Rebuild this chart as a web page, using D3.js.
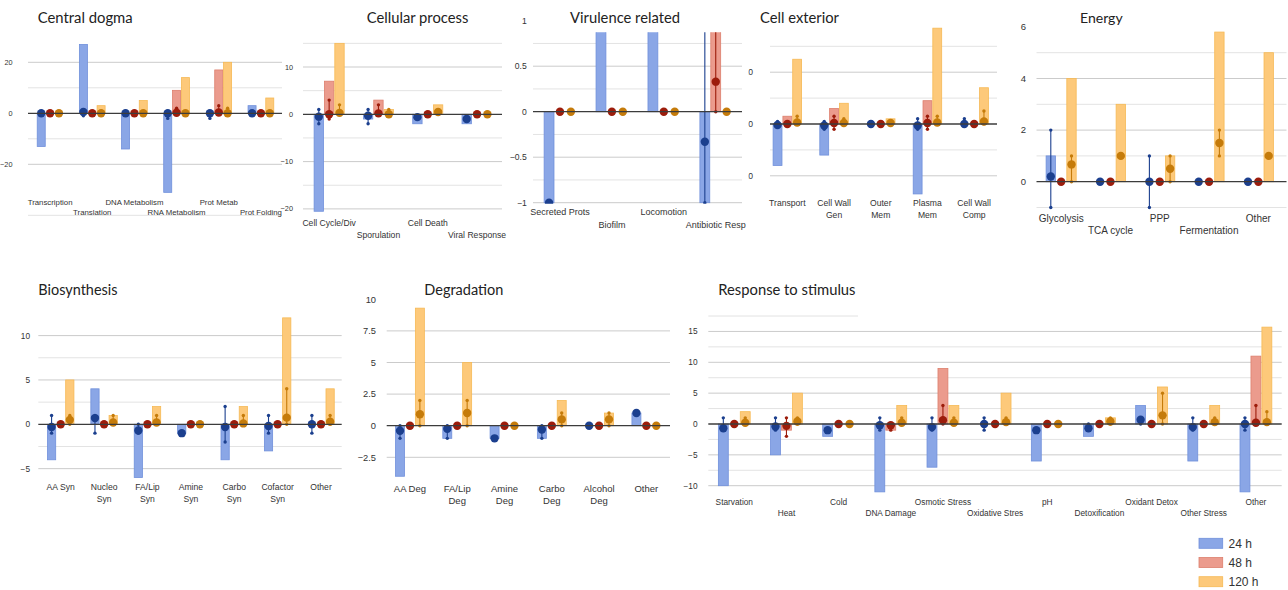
<!DOCTYPE html>
<html><head><meta charset="utf-8">
<script src="https://cdn.jsdelivr.net/npm/d3@7"></script>
<style>
html,body{margin:0;padding:0;background:#fff;}
svg{display:block;}
.lbl{font-family:"Liberation Sans",Arial,sans-serif;fill:#333;}
.title{font-family:Lato,"Open Sans",sans-serif;fill:#222;}
</style></head><body>
<svg id="chart" width="1288" height="590"></svg>
<script>
// ---- series ----
const seriesNames = ["24 h", "48 h", "120 h"];
const barFill   = ["#8aa6e6", "#eb9b8d", "#fdc97a"];
const barStroke = ["#7090db", "#dd7f6d", "#f6b955"];
const dotFill   = ["#1b3f8e", "#9c1c0b", "#c57b0a"];

// ---- Central dogma ----
const dogmaCats = ["Transcription", "Translation", "DNA Metabolism", "RNA Metabolism", "Prot Metab", "Prot Folding"];
const dogma24 = [-13, 27, -14, -31, 0, 3];
const dogma48 = [0, 0, 0, 9, 17, 0];
const dogma120 = [0, 3, 5, 14, 20, 6];
const dogmaDot24 = [0, 0.5, 0, 0, 0, 0];
const dogmaDot48 = [0, 0, 0, 0.2, 0.3, 0];
const dogmaDot120 = [0, 0, 0, 0, 0, 0];
const dogmaErr24 = [[-0.8, 0.5], [-1, 1], [-0.6, 0.3], [-2, 0], [-2, 0.5], [-0.5, 0.5]];
const dogmaErr48 = [[0, 0], [0, 0], [0, 0], [0, 2], [0, 3], [0, 0]];
const dogmaErr120 = [[0, 0], [0, 0], [0, 0], [0, 0], [0, 2], [0, 0]];

// ---- Cellular process ----
const cellCats = ["Cell Cycle/Div", "Sporulation", "Cell Death", "Viral Response"];
const cell24 = [-20.5, -1, -2, -2];
const cell48 = [7, 3, 0, 0];
const cell120 = [15, 1, 2, 0];
const cellDot24 = [-0.5, -0.3, -0.6, -1];
const cellDot48 = [0, 0.2, 0, 0];
const cellDot120 = [0.3, 0, 0.5, 0];
const cellErr24 = [[-2, 1], [-2, 1], [0, 0], [0, 0]];
const cellErr48 = [[-1, 3], [0, 2], [0, 0], [0, 0]];
const cellErr120 = [[0, 2], [0, 1], [0, 0], [0, 0]];

// ---- Virulence related ----
const virCats = ["Secreted Prots", "Biofilm", "Locomotion", "Antibiotic Resp"];
const vir24 = [-1, 1, 1, -1];
const vir48 = [0, 0, 0, 1];
const vir120 = [0, 0, 0, 0];
const virDot24 = [-1, 1, 1, -0.33];
const virDot48 = [0, 0, 0, 0.33];
const virDot120 = [0, 0, 0, 0];
const virErr24 = [[0, 0], [0, 0], [0, 0], [-1, 1]];
const virErr48 = [[0, 0], [0, 0], [0, 0], [0, 1]];
const virErr120 = [[0, 0], [0, 0], [0, 0], [0, 0]];

// ---- Cell exterior ----
const extCats = ["Transport", "Cell Wall\nGen", "Outer\nMem", "Plasma\nMem", "Cell Wall\nComp"];
const ext24 = [-8, -6, 0, -13.5, 0];
const ext48 = [1.5, 3, 0, 4.5, 0];
const ext120 = [12.5, 4, 1, 18.5, 7];
const extDot24 = [-0.2, -0.3, 0, -0.3, 0];
const extDot48 = [0, 0.2, 0, 0.2, 0];
const extDot120 = [0.3, 0.2, 0.2, 0.3, 0.5];
const extErr24 = [[-0.5, 0.5], [-1, 0.5], [0, 0], [-1, 1], [0, 1]];
const extErr48 = [[0, 0], [-1, 1.5], [0, 0], [-1, 1.5], [0, 0]];
const extErr120 = [[0, 1.5], [0, 1], [0, 0], [0, 1.5], [0, 2.5]];

// ---- Energy ----
const enCats = ["Glycolysis", "TCA cycle", "PPP", "Fermentation", "Other"];
const en24 = [1, 0, 0, 0, 0];
const en48 = [0, 0, 0, 0, 0];
const en120 = [4, 3, 1, 5.8, 5];
const enDot24 = [0.2, 0, 0, 0, 0];
const enDot48 = [0, 0, 0, 0, 0];
const enDot120 = [0.67, 1, 0.5, 1.5, 1];
const enErr24 = [[-1, 2], [0, 0], [-1, 1], [0, 0], [0, 0]];
const enErr48 = [[0, 0], [0, 0], [0, 0], [0, 0], [0, 0]];
const enErr120 = [[0, 1], [0, 0], [0, 1], [1, 2], [0, 0]];

// ---- Biosynthesis ----
const bioCats = ["AA Syn", "Nucleo\nSyn", "FA/Lip\nSyn", "Amine\nSyn", "Carbo\nSyn", "Cofactor\nSyn", "Other"];
const bio24 = [-4, 4, -6, -1, -4, -3, 0];
const bio48 = [0, 0, 0, 0, 0, 0, 0];
const bio120 = [5, 1, 2, 0, 2, 12, 4];
const bioDot24 = [-0.3, 0.7, -0.7, -1, -0.3, -0.2, 0];
const bioDot48 = [0, 0, 0, 0, 0, 0, 0];
const bioDot120 = [0.5, 0.2, 0.2, 0, 0.1, 0.75, 0.3];
const bioErr24 = [[-1, 1], [-1, 1], [-1, 0], [0, 0], [-2, 2], [-1, 1], [-1, 1]];
const bioErr48 = [[0, 0], [0, 0], [0, 0], [0, 0], [0, 0], [0, 0], [0, 0]];
const bioErr120 = [[0, 1], [0, 1], [0, 1], [0, 0], [0, 1], [0, 4], [0, 1]];

// ---- Degradation ----
const degCats = ["AA Deg", "FA/Lip\nDeg", "Amine\nDeg", "Carbo\nDeg", "Alcohol\nDeg", "Other"];
const deg24 = [-4, -1, -1, -1, 0, 1];
const deg48 = [0, 0, 0, 0, 0, 0];
const deg120 = [9.3, 5, 0, 2, 1, 0];
const degDot24 = [-0.4, -0.25, -1, -0.3, 0, 1];
const degDot48 = [0, 0, 0, 0, 0, 0];
const degDot120 = [0.9, 1, 0, 0.5, 0.5, 0];
const degErr24 = [[-1, 0], [-1, 0], [0, 0], [-1, 0], [0, 0], [0, 0]];
const degErr48 = [[0, 0], [0, 0], [0, 0], [0, 0], [0, 0], [0, 0]];
const degErr120 = [[0, 2], [0, 2], [0, 0], [0, 1], [0, 1], [0, 0]];

// ---- Response to stimulus ----
const stimCats = ["Starvation", "Heat", "Cold", "DNA Damage", "Osmotic Stress", "Oxidative Stres", "pH", "Detoxification", "Oxidant Detox", "Other Stress", "Other"];
const stim24 = [-10, -5, -2, -11, -7, 0, -6, -2, 3, -6, -11];
const stim48 = [0, -1, 0, -1, 9, 0, 0, 0, 0, 0, 11];
const stim120 = [2, 5, 0, 3, 3, 5, 0, 1, 6, 3, 15.7];
const stimDot24 = [-0.7, -0.4, -1, -0.2, -0.5, 0, -1, -0.7, 0.7, -0.5, 0];
const stimDot48 = [0, -0.3, 0, -0.2, 0.6, 0, 0, 0, 0, 0, 0.2];
const stimDot120 = [0.2, 0.4, 0, 0.2, 0.2, 0.3, 0, 0.4, 1.4, 0.3, 0.3];
const stimErr24 = [[-1, 1], [-1, 1], [0, 0], [-1, 1], [-1, 1], [-1, 1], [0, 0], [-1, 0], [0, 1], [-1, 1], [-1, 1]];
const stimErr48 = [[0, 0], [-2, 1], [0, 0], [-1, 0], [0, 3], [0, 0], [0, 0], [0, 0], [0, 0], [0, 0], [0, 3]];
const stimErr120 = [[0, 1], [0, 1], [0, 0], [0, 1], [0, 1], [0, 1], [0, 0], [0, 1], [0, 5], [0, 1], [0, 2]];

// ---- panel layout ----
const panels = [
  { id: "dogma", title: "Central dogma", tx: 37.7, ty: 22.5, anchor: "start", tw: 95,
    cats: dogmaCats, bars: [dogma24, dogma48, dogma120], dots: [dogmaDot24, dogmaDot48, dogmaDot120], errs: [dogmaErr24, dogmaErr48, dogmaErr120],
    band: [29, 282], zeroY: 113.3, ppu: 2.55, grid: [20, 10, -10, -20, -40], ticks: [20, 0, -20], tickX: 12.5,
    gridX: [28, 282], rows: [202, 212.5], stagger: true, fs: 7.8, tickFs: 7.3 },
  { id: "cell", title: "Cellular process", tx: 417.5, ty: 22.5, anchor: "middle", tw: 101.7,
    cats: cellCats, bars: [cell24, cell48, cell120], dots: [cellDot24, cellDot48, cellDot120], errs: [cellErr24, cellErr48, cellErr120],
    band: [304.5, 501.7], zeroY: 114.3, ppu: 4.73, grid: [15, 10, 5, -5, -10, -15, -20], ticks: [10, 0, -10, -20], tickX: 293,
    gridX: [303, 502], rows: [222.7, 235], stagger: true, fs: 8.6, tickFs: 7.3 },
  { id: "vir", title: "Virulence related", tx: 625, ty: 22.5, anchor: "middle", tw: 110,
    cats: virCats, bars: [vir24, vir48, vir120], dots: [virDot24, virDot48, virDot120], errs: [virErr24, virErr48, virErr120],
    band: [534, 741.7], zeroY: 111.7, ppu: 91, grid: [0.75, 0.5, 0.25, -0.25, -0.5, -0.75, -1], ticks: [1, 0.5, 0, -0.5, -1], tickX: 526.7,
    gridX: [533, 742], rows: [212.3, 225], stagger: true, fs: 9, tickFs: 8.6, clipY: [32.3, 203.8] },
  { id: "ext", title: "Cell exterior", tx: 760, ty: 22.5, anchor: "start", tw: 79,
    cats: extCats, bars: [ext24, ext48, ext120], dots: [extDot24, extDot48, extDot120], errs: [extErr24, extErr48, extErr120],
    band: [764, 997.5], zeroY: 124, ppu: 5.18, grid: [15, 10, 5, -5, -10], ticks: [10, 0, -10], tickX: 753,
    gridX: [770, 997], rows: [203.3, 215], stagger: false, fs: 8.6, tickFs: 8.6, tickClipLeft: 748.3 },
  { id: "en", title: "Energy", tx: 1080, ty: 22.5, anchor: "start", tw: 42.7,
    cats: enCats, bars: [en24, en48, en120], dots: [enDot24, enDot48, enDot120], errs: [enErr24, enErr48, enErr120],
    band: [1036.5, 1283], zeroY: 181.7, ppu: 25.8, grid: [5, 4, 3, 2, 1, -1], ticks: [6, 4, 2, 0], tickX: 1026,
    gridX: [1036.5, 1286.5], rows: [218.3, 230], stagger: true, fs: 10, tickFs: 9.5 },
  { id: "bio", title: "Biosynthesis", tx: 38.3, ty: 295, anchor: "start", tw: 79.3,
    cats: bioCats, bars: [bio24, bio48, bio120], dots: [bioDot24, bioDot48, bioDot120], errs: [bioErr24, bioErr48, bioErr120],
    band: [39, 342.7], zeroY: 424.3, ppu: 8.87, grid: [10, 7.5, 5, 2.5, -2.5, -5], ticks: [10, 5, 0, -5], tickX: 30,
    gridX: [38.3, 341.7], rows: [487.3, 499.3], stagger: false, fs: 8.6, tickFs: 8.3 },
  { id: "deg", title: "Degradation", tx: 424.3, ty: 295, anchor: "start", tw: 79,
    cats: degCats, bars: [deg24, deg48, deg120], dots: [degDot24, degDot48, degDot120], errs: [degErr24, degErr48, degErr120],
    band: [386.3, 670], zeroY: 425.7, ppu: 12.64, grid: [7.5, 5, 2.5, -2.5], ticks: [10, 7.5, 5, 2.5, 0, -2.5], tickX: 376,
    gridX: [386.7, 670], rows: [488.3, 500.7], stagger: false, fs: 9.5, tickFs: 9.3 },
  { id: "stim", title: "Response to stimulus", tx: 718.3, ty: 295, anchor: "start", tw: 137.3,
    cats: stimCats, bars: [stim24, stim48, stim120], dots: [stimDot24, stimDot48, stimDot120], errs: [stimErr24, stimErr48, stimErr120],
    band: [708.2, 1282], zeroY: 424, ppu: 6.17, grid: [15, 12.5, 10, 7.5, 5, 2.5, -2.5, -5, -7.5, -10], ticks: [15, 10, 5, 0, -5, -10], tickX: 697.5,
    gridX: [708.3, 1281.7], rows: [501.7, 513.3], stagger: true, fs: 8.3, tickFs: 8.3,
    partialGrid: { v: 17.5, x: [708.3, 858] } }
];

const svg = d3.select("#chart");
const defs = svg.append("defs");

function drawPanel(p) {
  const g = svg.append("g").attr("class", "panel-" + p.id);
  const x = d3.scaleBand().domain(p.cats).range(p.band);
  const sub = d3.scalePoint().domain(seriesNames).range([-0.21 * x.bandwidth(), 0.21 * x.bandwidth()]);
  const y = d3.scaleLinear().domain([0, 1]).range([p.zeroY, p.zeroY - p.ppu]);
  const bw = x.bandwidth() * 0.19;
  const fmt = d3.format("~g");

  // gridlines (labelled values slightly darker)
  g.append("g").selectAll("line").data(p.grid).join("line")
    .attr("x1", p.gridX[0]).attr("x2", p.gridX[1])
    .attr("y1", d => y(d)).attr("y2", d => y(d))
    .attr("stroke", d => p.ticks.includes(d) ? "#cbcbcb" : "#e3e3e3")
    .attr("stroke-width", 1);
  if (p.partialGrid) {
    g.append("line").attr("x1", p.partialGrid.x[0]).attr("x2", p.partialGrid.x[1])
      .attr("y1", y(p.partialGrid.v)).attr("y2", y(p.partialGrid.v))
      .attr("stroke", "#e3e3e3");
  }

  // y tick labels
  const tg = g.append("g");
  if (p.tickClipLeft) {
    defs.append("clipPath").attr("id", "tc-" + p.id).append("rect")
      .attr("x", p.tickClipLeft).attr("y", 0).attr("width", 60).attr("height", 300);
    tg.attr("clip-path", `url(#tc-${p.id})`);
  }
  tg.selectAll("text").data(p.ticks).join("text")
    .attr("class", "lbl").attr("x", p.tickX).attr("y", d => y(d)).attr("dy", "0.35em")
    .attr("text-anchor", "end").attr("font-size", p.tickFs).text(d => fmt(d));

  // marks
  const cy = p.clipY || [0, 590];
  defs.append("clipPath").attr("id", "mc-" + p.id).append("rect")
    .attr("x", p.band[0] - 5).attr("y", cy[0]).attr("width", p.band[1] - p.band[0] + 10).attr("height", cy[1] - cy[0]);
  const mg = g.append("g").attr("clip-path", `url(#mc-${p.id})`);

  const barData = [];
  const dotData = [];
  p.cats.forEach((c, i) => {
    seriesNames.forEach((s, k) => {
      const cx = x(c) + x.bandwidth() / 2 + sub(s);
      barData.push({ cx, v: p.bars[k][i], k });
      dotData.push({ cx, v: p.dots[k][i], e: p.errs[k][i], k });
    });
  });

  mg.append("g").selectAll("rect").data(barData.filter(d => d.v !== 0)).join("rect")
    .attr("x", d => d.cx - bw / 2).attr("width", bw)
    .attr("y", d => Math.min(y(0), y(d.v))).attr("height", d => Math.abs(y(d.v) - y(0)))
    .attr("fill", d => barFill[d.k]).attr("stroke", d => barStroke[d.k]).attr("stroke-width", 0.8);

  // zero line
  g.append("line").attr("x1", p.gridX[0]).attr("x2", p.gridX[1])
    .attr("y1", y(0)).attr("y2", y(0)).attr("stroke", "#3c3c3c").attr("stroke-width", 1.3);

  const errData = dotData.filter(d => d.e[0] !== d.e[1]);
  mg.append("g").selectAll("line").data(errData).join("line")
    .attr("x1", d => d.cx).attr("x2", d => d.cx)
    .attr("y1", d => y(d.e[0])).attr("y2", d => y(d.e[1]))
    .attr("stroke", d => dotFill[d.k]).attr("stroke-width", 1.1);
  const caps = [];
  errData.forEach(d => { caps.push({ cx: d.cx, v: d.e[0], k: d.k }); caps.push({ cx: d.cx, v: d.e[1], k: d.k }); });
  mg.append("g").selectAll("circle").data(caps).join("circle")
    .attr("cx", d => d.cx).attr("cy", d => y(d.v)).attr("r", 1.7).attr("fill", d => dotFill[d.k]);

  mg.append("g").selectAll("circle").data(dotData).join("circle")
    .attr("cx", d => d.cx).attr("cy", d => y(d.v)).attr("r", 4.2).attr("fill", d => dotFill[d.k]);

  // category labels
  const lg = g.append("g");
  p.cats.forEach((c, i) => {
    const lines = c.split("\n");
    const cx = x(c) + x.bandwidth() / 2;
    lines.forEach((ln, j) => {
      const row = p.stagger ? i % 2 : j;
      lg.append("text").attr("class", "lbl").attr("x", cx).attr("y", p.rows[row]).attr("dy", "0.35em")
        .attr("text-anchor", "middle").attr("font-size", p.fs).text(ln);
    });
  });

  // title, sized to its slot
  const t = g.append("text").attr("class", "title").attr("x", p.tx).attr("y", p.ty)
    .attr("text-anchor", p.anchor).attr("font-size", 15).text(p.title);
  const len = t.node().getComputedTextLength();
  if (len > 0) t.attr("font-size", 15 * p.tw / len);
}

panels.forEach(drawPanel);

// legend
const leg = svg.append("g").selectAll("g").data(seriesNames).join("g")
  .attr("transform", (d, i) => `translate(1199,${538.3 + i * 19.2})`);
leg.append("rect").attr("width", 23.7).attr("height", 10)
  .attr("fill", (d, i) => barFill[i]).attr("stroke", (d, i) => barStroke[i]).attr("stroke-width", 0.8);
leg.append("text").attr("class", "lbl").attr("x", 29.5).attr("y", 5).attr("dy", "0.36em")
  .attr("font-size", 12).text(d => d);
</script>
</body></html>
